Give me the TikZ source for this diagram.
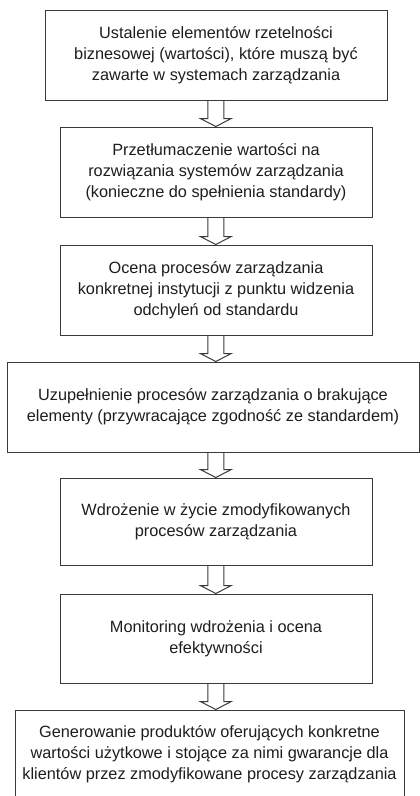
\documentclass[tikz,border=0pt]{standalone}
\usepackage{fontspec}
\setmainfont{Liberation Sans}
\usetikzlibrary{calc}
\definecolor{linegray}{HTML}{3A3A3A}
\definecolor{textgray}{HTML}{1E1E1E}
\tikzset{
  stepbox/.style={draw=linegray, line width=1pt, fill=white, inner sep=0pt,
    align=center, text=textgray,
    font=\fontsize{16.3}{21}\selectfont},
  blockarrow/.style={draw=linegray, line width=1pt, line join=miter}
}
\newcommand{\flowarrow}[2]{%
  \draw[blockarrow] ($(ax |- #1.south)+(-8,0)$) -- ($(ax |- #2.north)+(-8,-8)$)
    -- ($(ax |- #2.north)+(-15.5,-8)$) -- (ax |- #2.north)
    -- ($(ax |- #2.north)+(15.5,-8)$) -- ($(ax |- #2.north)+(8,-8)$)
    -- ($(ax |- #1.south)+(8,0)$);}
\begin{document}
\begin{tikzpicture}[x=1pt, y=-1pt]
\useasboundingbox (0,0) rectangle (420,796);
\clip (0,0) rectangle (420,796);
\coordinate (ax) at (215.8,0);
\node[stepbox, minimum width=342pt, minimum height=90pt] (b1) at (216,55)
  {Ustalenie elementów rzetelności\\biznesowej (wartości), które muszą być\\zawarte w systemach zarządzania};
\node[stepbox, minimum width=312pt, minimum height=90pt] (b2) at (216,172)
  {Przetłumaczenie wartości na\\rozwiązania systemów zarządzania\\(konieczne do spełnienia standardy)};
\node[stepbox, minimum width=312pt, minimum height=90pt] (b3) at (216,290)
  {Ocena procesów zarządzania\\konkretnej instytucji z punktu widzenia\\odchyleń od standardu};
\node[stepbox, minimum width=412pt, minimum height=90pt] (b4) at (213,407)
  {Uzupełnienie procesów zarządzania o brakujące\\elementy (przywracające zgodność ze standardem)};
\node[stepbox, minimum width=312pt, minimum height=87pt] (b5) at (216,521.5)
  {Wdrożenie w życie zmodyfikowanych\\procesów zarządzania};
\node[stepbox, minimum width=312pt, minimum height=89pt] (b6) at (216,638.5)
  {Monitoring wdrożenia i ocena\\efektywności};
\node[stepbox, minimum width=389pt, minimum height=88pt] (b7) at (209.5,754)
  {Generowanie produktów oferujących konkretne\\wartości użytkowe i stojące za nimi gwarancje dla\\klientów przez zmodyfikowane procesy zarządzania};
\flowarrow{b1}{b2}
\flowarrow{b2}{b3}
\flowarrow{b3}{b4}
\flowarrow{b4}{b5}
\flowarrow{b5}{b6}
\flowarrow{b6}{b7}
\end{tikzpicture}
\end{document}
